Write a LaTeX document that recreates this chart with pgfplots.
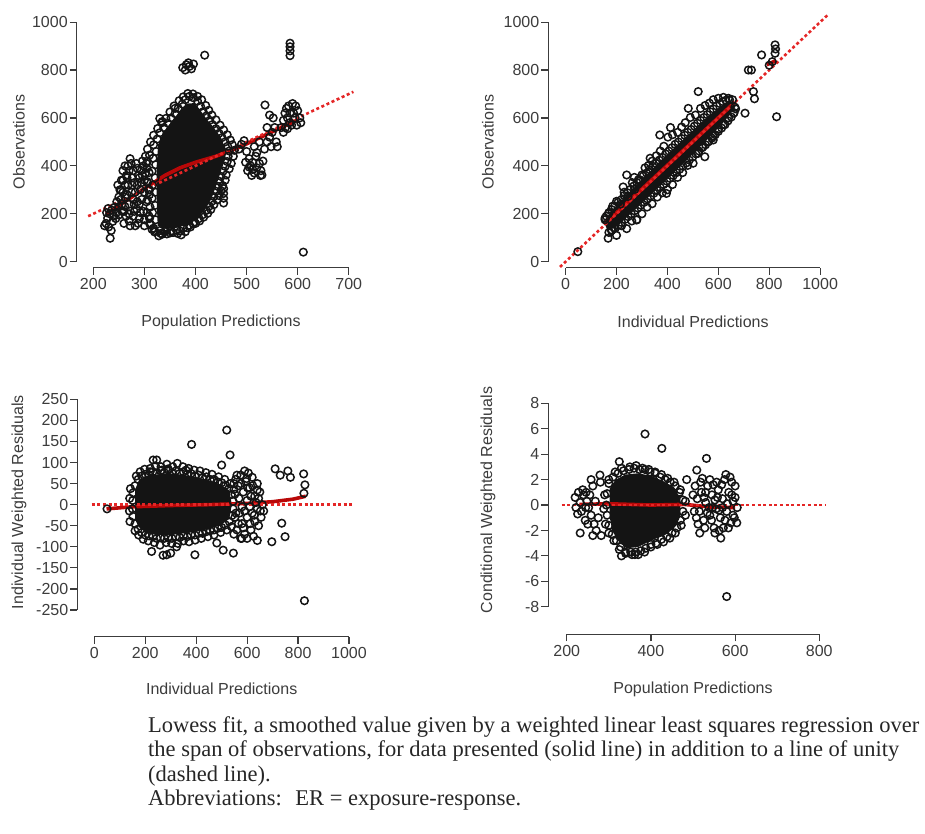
\documentclass[border=0pt]{standalone}
\usepackage{fontspec}
\setmainfont{Liberation Sans}
\newfontfamily\capfont{Liberation Serif}
\usepackage{pgfplots}
\pgfplotsset{compat=1.18}

\definecolor{fitred}{RGB}{185,8,8}
\definecolor{unityred}{RGB}{228,38,38}
\definecolor{ptcol}{RGB}{20,20,20}
\definecolor{axcol}{RGB}{60,60,60}
\newcommand\axfont{\fontsize{16}{19}\selectfont}

\tikzset{axisline/.style={axcol, line width=1.2pt}}
\pgfplotsset{
  panel/.style={
    scale only axis, anchor=south west, clip=false,
    axis line style={draw=none},
    xtick pos=bottom, ytick pos=left,
    tick align=outside, major tick length=7pt,
    tick style={line width=1.2pt, color=axcol},
    tick label style={font=\axfont, text=axcol},
    yticklabel style={xshift=1.5pt},
  },
  pts/.style={only marks, mark=o, mark size=3.8pt, color=ptcol,
    mark options={line width=1.5pt}},
  core/.style={fill=ptcol, draw=none},
  lowess/.style={no marks, fitred, line width=3.6pt},
  unity/.style={no marks, unityred, line width=2.6pt, dash pattern=on 3pt off 2.6pt},
}

\begin{document}
\begin{tikzpicture}
\path[use as bounding box] (0,0) rectangle (925pt,-834pt);

% ---------- Population predictions vs observations ----------
\begin{axis}[panel, at={(76.7pt,-267.7pt)}, width=279.77pt, height=252.78pt,
  xmin=167.5, xmax=715, ymin=-25, ymax=1030,
  xtick={200,300,400,500,600,700}, xticklabels={200,300,400,500,600,700},
  ytick={0,200,400,600,800,1000}, yticklabels={0,200,400,600,800,1000}]
\addplot[core] coordinates {(326,150) (324,260) (324,400) (327,490) (337,540)
  (353,585) (370,630) (384,660) (398,662) (410,630) (422,595) (437,556)
  (450,518) (458,475) (458,430) (449,372) (440,315) (431,262) (419,218)
  (404,182) (386,155) (360,140) (340,140)};
\addplot[pts] coordinates {
  (318,140) (322,175) (316,205) (321,235) (315,265) (322,290) (316,320)
  (321,350) (315,378) (322,405) (317,432) (323,460) (318,488) (325,512)
  (330,538) (338,560) (346,578) (352,600) (360,618) (366,640) (374,658)
  (380,676) (388,690) (396,684) (404,670) (410,648) (415,626) (421,608)
  (428,590) (433,572) (440,555) (446,536) (452,518) (458,500) (463,482)
  (466,462) (464,440) (462,418) (458,398) (454,378) (450,356) (447,335)
  (444,314) (440,294) (436,272) (432,252) (427,232) (421,214) (414,196)
  (407,180) (398,166) (388,152) (376,140) (364,132) (352,128) (340,126)
  (330,130)
  (312,155) (309,190) (311,228) (306,258) (310,300) (305,335) (309,372)
  (304,410) (310,445) (306,470) (312,500) (318,528) (326,556) (334,580)
  (342,598) (350,625) (358,650) (368,672) (376,688) (385,702) (395,700)
  (404,690) (412,676) (420,652) (426,632) (432,612) (440,592) (448,570)
  (455,550) (462,530) (468,508) (472,488) (476,465) (474,440) (470,410)
  (466,388) (460,362) (458,340) (453,318) (450,296) (446,276) (442,258)
  (436,238) (430,218) (424,202) (416,186) (408,170) (396,158) (384,142)
  (370,128) (356,122) (344,116) (332,118) (320,124)
  (225,160) (228,182) (232,200) (236,215) (240,190) (230,145) (238,168)
  (242,228) (226,205) (233,98) (245,205) (235,130) (222,150) (229,222)
  (246,250) (244,180) (250,195) (256,210)
  (252,300) (255,340) (258,380) (262,400) (265,360) (268,320) (262,270)
  (270,240) (275,290) (280,330) (278,380) (284,410) (288,360) (292,300)
  (295,260) (285,220) (278,190) (270,170) (260,210) (290,180) (300,150)
  (296,420) (305,390) (300,340) (308,300) (304,250) (298,210) (310,180)
  (272,430) (256,240) (264,190) (282,150) (250,270) (268,400) (286,250)
  (294,330) (302,440) (276,350) (260,160) (248,320)
  (250,230) (254,260) (258,290) (262,320) (266,350) (270,380) (274,410)
  (278,260) (282,290) (286,320) (290,350) (294,380) (298,400) (302,370)
  (306,330) (310,280) (300,290) (290,240) (280,210) (270,200) (266,280)
  (276,320) (286,390) (296,360) (306,420) (258,340) (254,300) (262,230)
  (272,150) (288,160) (300,175) (305,205) (292,205) (280,240)
  (320,130) (335,115) (350,120) (365,118) (380,125) (345,140) (310,160)
  (315,135) (390,145) (400,160) (328,108) (372,112)
  (330,598) (335,585) (360,640)
  (455,245) (455,265) (455,285) (455,305)
  (375,810) (382,822) (388,815) (392,805) (396,825) (380,800) (418,862) (386,830)
  (485,470) (490,490) (495,505) (500,460) (505,430) (508,400) (512,385)
  (515,370) (520,392) (525,410) (518,440) (528,380) (530,362) (510,360)
  (502,380) (535,470) (540,500) (545,520) (550,540) (548,480) (555,560)
  (552,600) (540,560) (536,654) (545,612) (558,500) (560,480) (525,500)
  (515,480) (520,455) (505,395) (498,415) (532,420) (512,415) (527,360)
  (568,560) (572,590) (575,620) (578,640) (580,600) (584,580) (588,570)
  (592,620) (596,650) (600,630) (604,600) (598,570) (590,660) (582,650)
  (576,560) (606,580) (595,600) (585,620) (572,540) (580,555)
  (585,860) (585,880) (585,897) (585,912) (611,40)};
\addplot[lowess] coordinates {(225,200) (260,248) (300,305) (340,360) (370,392)
  (400,415) (440,440) (480,472) (520,512) (560,552) (600,592)};
\addplot[unity] coordinates {(190,190) (709,709)};
\draw[axisline] (axis cs:200,-25) -- (axis cs:700,-25);
\draw[axisline] (axis cs:167.5,0) -- (axis cs:167.5,1000);
\end{axis}

% ---------- Individual predictions vs observations ----------
\begin{axis}[panel, at={(548.3pt,-267.7pt)}, width=281.99pt, height=255.17pt,
  xmin=-68, xmax=1040, ymin=-25, ymax=1040,
  xtick={0,200,400,600,800,1000}, xticklabels={0,200,400,600,800,1000},
  ytick={0,200,400,600,800,1000}, yticklabels={0,200,400,600,800,1000}]
\addplot[core] coordinates {(150,170) (200,235) (260,300) (320,365) (380,428)
  (440,488) (500,548) (560,608) (620,655) (655,668) (668,648) (625,588)
  (565,520) (505,455) (445,392) (385,330) (325,270) (265,210) (205,150) (165,128)};
\addplot[pts] coordinates {
  (155,182) (168,200) (180,218) (193,232) (206,248) (218,258) (230,276)
  (243,288) (255,302) (268,316) (280,330) (292,342) (305,358) (318,370)
  (330,384) (343,398) (356,410) (368,424) (380,436) (393,450) (406,462)
  (418,476) (430,490) (443,500) (456,514) (468,528) (480,540) (493,552)
  (506,566) (518,578) (530,590) (543,602) (556,614) (568,626) (580,638)
  (593,650) (606,660) (618,668) (630,674) (644,676) (656,676)
  (170,122) (182,132) (195,140) (208,152) (220,164) (233,176) (246,188)
  (258,200) (271,212) (284,224) (296,236) (309,248) (322,262) (334,274)
  (347,286) (360,298) (372,310) (385,322) (398,336) (410,348) (423,360)
  (436,372) (448,386) (461,398) (474,412) (486,424) (499,436) (512,450)
  (524,462) (537,476) (550,488) (562,502) (575,516) (588,530) (600,544)
  (613,558) (626,572) (638,588) (651,604) (662,622) (668,638)
  (170,205) (185,232) (200,252) (215,240) (230,290) (245,272) (262,330)
  (272,302) (286,342) (300,362) (312,392) (326,402) (340,420) (356,442)
  (372,462) (386,482) (402,520) (420,530) (440,540) (456,562) (470,580)
  (490,602) (510,612) (530,640) (548,652) (565,662) (580,676) (600,682)
  (620,686) (640,682) (240,362) (226,312) (270,352) (332,432) (370,529)
  (412,560) (482,640) (521,710) (160,190) (155,175)
  (180,130) (200,110) (220,150) (240,138) (260,170) (280,176) (300,200)
  (320,228) (340,242) (360,270) (380,288) (396,285) (400,300) (420,322)
  (440,352) (460,372) (480,402) (501,411) (520,452) (547,438) (540,480)
  (560,500) (580,508) (580,524) (600,552) (620,572) (640,600) (660,620)
  (665,645) (279,174) (167,98) (190,142)
  (48,42) (770,863) (718,800) (730,800) (738,710) (742,680) (705,620)
  (829,605) (823,870) (825,888) (823,905) (800,820) (812,835)};
\addplot[lowess] coordinates {(150,156) (300,303) (450,452) (600,601) (665,666)};
\addplot[lowess] coordinates {(790,822) (828,840)};
\addplot[unity] coordinates {(-22,-22) (1031,1031)};
\draw[axisline] (axis cs:0,-25) -- (axis cs:1000,-25);
\draw[axisline] (axis cs:-68,0) -- (axis cs:-68,1000);
\end{axis}

% ---------- Individual weighted residuals ----------
\begin{axis}[panel, at={(77.3pt,-636.7pt)}, width=281.88pt, height=245.79pt,
  xmin=-66.7, xmax=1040, ymin=-313.4, ymax=270,
  xtick={0,200,400,600,800,1000}, xticklabels={0,200,400,600,800,1000},
  ytick={-250,-200,-150,-100,-50,0,50,100,150,200,250},
  yticklabels={-250,-200,-150,-100,-50,0,50,100,150,200,250}]
\addplot[core] coordinates {(160,-35) (160,35) (175,58) (205,68) (250,72)
  (300,74) (350,71) (400,65) (450,58) (495,48) (530,34) (540,0) (530,-34)
  (495,-48) (450,-58) (400,-64) (350,-68) (300,-72) (250,-72) (205,-68) (175,-53)};
\addplot[pts] coordinates {
  (160,45) (172,60) (186,68) (200,72) (215,70) (230,78) (245,74) (260,80)
  (275,76) (290,82) (305,76) (320,80) (335,74) (350,78) (365,72) (380,74)
  (395,68) (410,70) (425,64) (440,66) (455,60) (470,60) (485,54) (500,52)
  (515,46) (528,38) (538,24) (545,8)
  (545,-10) (540,-26) (530,-40) (515,-48) (500,-54) (485,-56) (470,-60)
  (455,-62) (440,-64) (425,-68) (410,-68) (395,-72) (380,-72) (365,-76)
  (350,-74) (335,-78) (320,-76) (305,-80) (290,-78) (275,-80) (260,-78)
  (245,-80) (230,-76) (215,-74) (200,-72) (186,-66) (172,-58) (160,-45)
  (152,-28) (150,-10) (151,10) (152,28)
  (165,68) (180,78) (198,84) (220,86) (240,92) (262,90) (285,96) (308,90)
  (326,98) (348,90) (370,86) (392,82) (415,80) (438,76) (462,72) (488,66)
  (512,60) (534,50) (548,36)
  (552,-30) (538,-52) (520,-60) (496,-66) (470,-72) (446,-76) (420,-80)
  (396,-84) (372,-88) (350,-86) (328,-92) (304,-92) (282,-90) (258,-96)
  (236,-90) (212,-86) (192,-82) (174,-72) (160,-62)
  (140,-40) (138,-15) (139,15) (142,38)
  (555,60) (565,45) (575,70) (585,30) (595,55) (600,10) (610,40) (620,65)
  (630,20) (640,-10) (650,30) (660,0) (655,-30) (645,-50) (630,-40)
  (615,-60) (600,-30) (590,-70) (580,-45) (570,-20) (560,-60) (625,-75)
  (605,75) (590,80) (640,50) (665,-15) (575,-80) (548,-70) (610,-5)
  (635,5) (568,15) (552,25) (580,-5) (620,-20) (645,15)
  (556,-20) (566,-45) (575,50) (590,-15) (602,40) (615,20) (628,-25)
  (640,35) (652,-15) (560,70) (585,-55) (612,-45) (598,62) (622,45) (548,50)
  (520,177) (382,143) (533,118) (500,94) (245,106) (219,78) (710,85)
  (730,70) (760,80) (770,65) (822,73) (827,47) (823,27) (736,-44)
  (749,-76) (697,-88) (825,-228) (225,-111) (284,-119) (395,-119)
  (506,-108) (546,-115) (579,-80) (481,-91) (323,-100) (50,-10) (265,82)
  (290,85) (360,82) (270,-120) (300,-115) (600,-80) (640,-85) (231,106)};
\addplot[lowess] coordinates {(48,-10) (150,-5) (300,-2) (450,0) (600,3)
  (700,7) (780,13) (830,20)};
\addplot[unity] coordinates {(-10,0) (1017,0)};
\draw[axisline] (axis cs:0,-313.4) -- (axis cs:1000,-313.4);
\draw[axisline] (axis cs:-66.7,-250) -- (axis cs:-66.7,250);
\end{axis}

% ---------- Conditional weighted residuals ----------
\begin{axis}[panel, at={(548.3pt,-634.3pt)}, width=281.52pt, height=238.57pt,
  xmin=156.3, xmax=825, ymin=-10.17, ymax=8.6,
  xtick={200,400,600,800}, xticklabels={200,400,600,800},
  ytick={-8,-6,-4,-2,0,2,4,6,8}, yticklabels={-8,-6,-4,-2,0,2,4,6,8}]
\addplot[core] coordinates {(302,1.3) (316,2.0) (340,2.4) (370,2.5) (400,2.3)
  (428,1.9) (455,1.4) (470,0.5) (470,-0.9) (458,-1.7) (436,-2.3) (400,-2.8)
  (370,-3.3) (342,-3.4) (322,-2.8) (308,-2.0) (302,-0.9)};
\addplot[pts] coordinates {
  (300,1.7) (310,2.2) (322,2.5) (335,2.7) (348,2.8) (360,2.9) (373,2.8)
  (386,2.8) (398,2.6) (410,2.5) (422,2.2) (434,2.0) (446,1.8) (458,1.5)
  (468,1.0) (476,0.4)
  (476,-0.5) (470,-1.2) (462,-1.8) (450,-2.2) (438,-2.5) (425,-2.7)
  (412,-3.0) (400,-3.1) (388,-3.4) (376,-3.6) (364,-3.7) (352,-3.7)
  (340,-3.7) (328,-3.3) (318,-2.8) (308,-2.3) (300,-1.6)
  (296,-0.8) (294,0.0) (296,0.9)
  (300,2.0) (315,2.6) (330,2.9) (350,3.0) (365,3.1) (380,2.9) (395,2.8)
  (410,2.6) (425,2.4) (440,2.1) (455,1.8) (470,1.2) (482,0.3)
  (482,-0.8) (472,-1.6) (458,-2.2) (445,-2.6) (430,-2.9) (415,-3.1)
  (400,-3.3) (385,-3.7) (370,-3.9) (355,-3.9) (340,-3.8) (325,-3.5)
  (312,-2.8) (300,-2.2) (330,-4.0) (362,-3.9)
  (290,0.8) (288,-0.3) (292,-1.5) (280,1.8) (275,-1.0) (268,0.3) (262,1.5)
  (258,-0.8) (270,-2.0) (255,0.8) (282,-2.4) (250,-1.5) (265,-1.5)
  (248,0.3) (252,-0.2) (246,1.0) (258,2.0) (244,-1.2) (262,-2.4)
  (220,0.6) (222,-0.2) (228,1.0) (232,0.2) (235,-0.5) (240,0.8) (245,-0.2)
  (226,-0.7) (238,1.2) (232,-2.2)
  (505,1.5) (510,0.5) (515,-0.5) (520,1.0) (525,-1.2) (530,0.2) (535,1.5)
  (540,-0.8) (545,0.8) (550,-1.8) (555,-0.3) (560,1.2) (565,-1.0) (570,0.5)
  (575,2.0) (580,-0.5) (585,1.0) (590,-1.4) (595,0.3) (600,1.5) (605,-0.2)
  (598,-1.0) (588,2.2) (572,-1.8) (548,1.6) (528,-1.8) (512,-1.5) (562,-2.0)
  (540,2.0) (522,2.1) (509,2.75) (532,3.67) (578,2.4) (566,-2.6) (552,-2.2)
  (592,0.8) (582,0.1) (595,-0.8) (558,0.6) (538,-0.2) (503,-0.5)
  (500,0.8) (508,-1.0) (518,1.8) (526,0.6) (534,-0.6) (544,-1.2) (552,0.4)
  (562,-0.4) (568,1.6) (576,-1.2) (584,-1.8) (592,1.8) (600,0.6) (604,-1.4)
  (516,-2.2) (530,1.0) (546,-0.2) (556,1.8) (570,-0.2)
  (386,5.59) (426,4.46) (325,3.41) (485,2.0) (279,2.36) (580,-7.2)};
\addplot[lowess] coordinates {(230,0.05) (300,0.1) (400,0.0) (480,0.05)
  (540,-0.15) (600,-0.2)};
\addplot[unity] coordinates {(188,0) (816,0)};
\draw[axisline] (axis cs:200,-10.17) -- (axis cs:800,-10.17);
\draw[axisline] (axis cs:156.3,-8) -- (axis cs:156.3,8);
\end{axis}

% axis titles
\begin{scope}[every node/.style={font=\axfont, text=axcol, inner sep=0pt}]
\node at (221pt,-322pt) {Population Predictions};
\node[rotate=90] at (19pt,-142pt) {Observations};
\node at (693pt,-322pt) {Individual Predictions};
\node[rotate=90] at (488pt,-142pt) {Observations};
\node at (221.7pt,-689pt) {Individual Predictions};
\node[rotate=90] at (19pt,-502pt) {Individual Weighted Residuals};
\node at (693pt,-689pt) {Population Predictions};
\node[rotate=90] at (488pt,-500pt) {Conditional Weighted Residuals};
\end{scope}

% note below the panels
\begin{scope}[every node/.style={font=\capfont\fontsize{22.5}{25}\selectfont,
    text=black!85, anchor=base west, inner sep=0pt}]
\node at (148pt,-732pt) {Lowess fit, a smoothed value given by a weighted linear least squares regression over};
\node at (148pt,-756.5pt) {the span of observations, for data presented (solid line) in addition to a line of unity};
\node at (148pt,-781pt) {(dashed line).};
\node at (148pt,-805.5pt) {Abbreviations:\hspace{0.6em}ER = exposure-response.};
\end{scope}
\end{tikzpicture}
\end{document}
